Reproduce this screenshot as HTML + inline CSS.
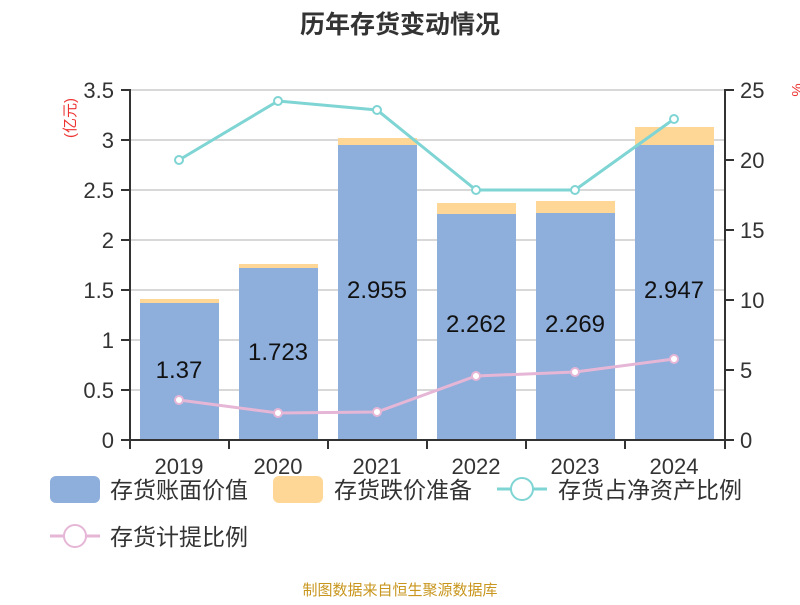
<!DOCTYPE html>
<html><head><meta charset="utf-8"><style>
body{margin:0;background:#fff;}
svg text{font-family:"Liberation Sans","Noto Sans CJK SC",sans-serif;}
</style></head><body>
<svg width="800" height="600" xmlns="http://www.w3.org/2000/svg">
<text x="400" y="33" text-anchor="middle" font-size="25" font-weight="bold" fill="#333">历年存货变动情况</text>
<g stroke="#ccc" stroke-width="1.5">
<line x1="130" x2="725" y1="90" y2="90"/><line x1="130" x2="725" y1="140" y2="140"/>
<line x1="130" x2="725" y1="190" y2="190"/><line x1="130" x2="725" y1="240" y2="240"/>
<line x1="130" x2="725" y1="290" y2="290"/><line x1="130" x2="725" y1="340" y2="340"/>
<line x1="130" x2="725" y1="390" y2="390"/>
</g>
<g fill="#8eaedb">
<rect x="140" y="303" width="79" height="137"/><rect x="239" y="268" width="79" height="172"/>
<rect x="338" y="145" width="79" height="295"/><rect x="437" y="214" width="79" height="226"/>
<rect x="536" y="213" width="79" height="227"/><rect x="635" y="145" width="79" height="295"/>
</g>
<g fill="#fed797">
<rect x="140" y="299" width="79" height="4"/><rect x="239" y="264" width="79" height="4"/>
<rect x="338" y="138" width="79" height="7"/><rect x="437" y="203" width="79" height="11"/>
<rect x="536" y="201" width="79" height="12"/><rect x="635" y="127" width="79" height="18"/>
</g>
<g font-size="24" fill="#111" text-anchor="middle">
<text x="179" y="378">1.37</text><text x="278" y="360">1.723</text>
<text x="377" y="298">2.955</text><text x="476" y="332">2.262</text>
<text x="575" y="332">2.269</text><text x="674" y="298">2.947</text>
</g>
<polyline points="179,160 278,101 377,110 476,190 575,190 674,119" fill="none" stroke="#7fd4d4" stroke-width="3"/>
<g fill="#fff" stroke="#7fd4d4" stroke-width="2">
<circle cx="179" cy="160" r="4"/><circle cx="278" cy="101" r="4"/><circle cx="377" cy="110" r="4"/>
<circle cx="476" cy="190" r="4"/><circle cx="575" cy="190" r="4"/><circle cx="674" cy="119" r="4"/>
</g>
<polyline points="179,400 278,413 377,412 476,376 575,372 674,359" fill="none" stroke="#e6b6d6" stroke-width="3"/>
<g fill="#fff" stroke="#e6b6d6" stroke-width="2">
<circle cx="179" cy="400" r="4"/><circle cx="278" cy="413" r="4"/><circle cx="377" cy="412" r="4"/>
<circle cx="476" cy="376" r="4"/><circle cx="575" cy="372" r="4"/><circle cx="674" cy="359" r="4"/>
</g>
<g stroke="#333" stroke-width="2" fill="none">
<line x1="130" y1="89" x2="130" y2="441"/><line x1="725" y1="89" x2="725" y2="441"/>
<line x1="121" y1="440" x2="734" y2="440"/>
<path d="M121 90H130M121 140H130M121 190H130M121 240H130M121 290H130M121 340H130M121 390H130"/>
<path d="M725 90H734M725 160H734M725 230H734M725 300H734M725 370H734"/>
<path d="M229 440V449M328 440V449M427 440V449M526 440V449M625 440V449M130 440V449M725 440V449"/>
</g>
<g font-size="22" fill="#333" text-anchor="end">
<text x="114" y="98">3.5</text><text x="114" y="148">3</text><text x="114" y="198">2.5</text>
<text x="114" y="248">2</text><text x="114" y="298">1.5</text><text x="114" y="348">1</text>
<text x="114" y="398">0.5</text><text x="114" y="448">0</text>
</g>
<g font-size="22" fill="#333">
<text x="740" y="98">25</text><text x="740" y="168">20</text><text x="740" y="238">15</text>
<text x="740" y="308">10</text><text x="740" y="378">5</text><text x="740" y="448">0</text>
</g>
<g font-size="22" fill="#333" text-anchor="middle">
<text x="179" y="474">2019</text><text x="278" y="474">2020</text><text x="377" y="474">2021</text>
<text x="476" y="474">2022</text><text x="575" y="474">2023</text><text x="674" y="474">2024</text>
</g>
<text transform="translate(75,118) rotate(-90)" text-anchor="middle" font-size="15" fill="#e33">(亿元)</text>
<text transform="translate(802,90) rotate(-90)" text-anchor="middle" font-size="15" fill="#e33">%</text>
<rect x="50" y="476" width="50" height="27" rx="6" fill="#8eaedb"/>
<text x="110" y="498" font-size="23" fill="#333">存货账面价值</text>
<rect x="273" y="476" width="50" height="27" rx="6" fill="#fed797"/>
<text x="334" y="498" font-size="23" fill="#333">存货跌价准备</text>
<line x1="497" y1="489" x2="547" y2="489" stroke="#7fd4d4" stroke-width="3"/>
<circle cx="522" cy="489" r="11" fill="#fff" stroke="#7fd4d4" stroke-width="2"/>
<text x="558" y="498" font-size="23" fill="#333">存货占净资产比例</text>
<line x1="50" y1="536" x2="100" y2="536" stroke="#e6b6d6" stroke-width="3"/>
<circle cx="75" cy="536" r="11" fill="#fff" stroke="#e6b6d6" stroke-width="2"/>
<text x="110" y="545" font-size="23" fill="#333">存货计提比例</text>
<text x="400" y="595" text-anchor="middle" font-size="15" fill="#c8961e">制图数据来自恒生聚源数据库</text>
</svg>
</body></html>
